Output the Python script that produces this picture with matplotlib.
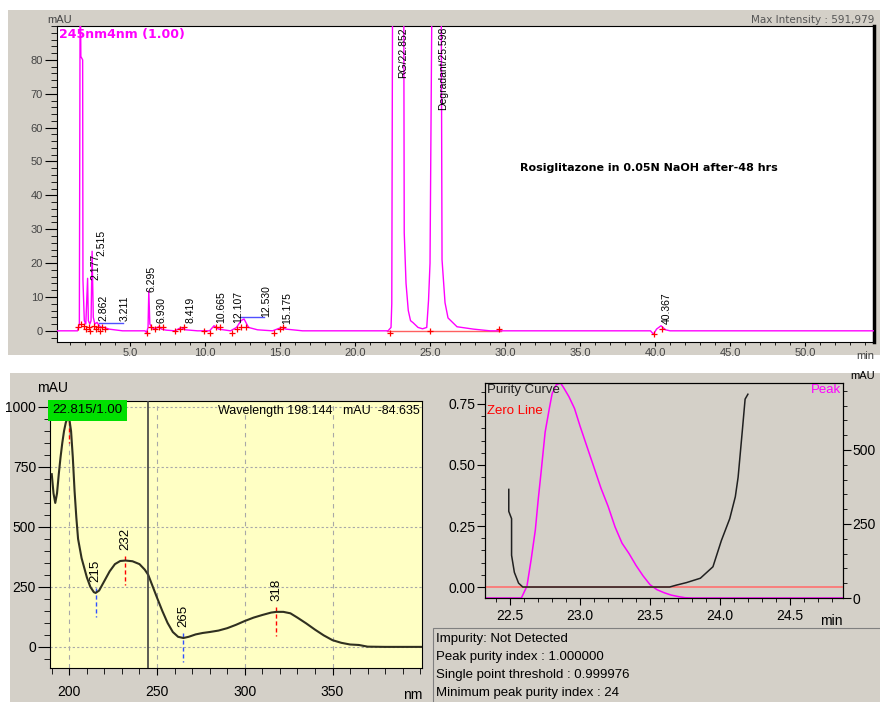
import matplotlib.pyplot as plt
from matplotlib.patches import Rectangle
from matplotlib.ticker import MultipleLocator, FixedLocator, FormatStrFormatter

plt.rcParams['font.family'] = ['Liberation Sans', 'DejaVu Sans']

W, H = 880, 702

# ---- chromatogram at 245 nm (time min, mAU) ----
chrom = [(0.1, 0), (1.50, 0), (1.62, 2), (1.67, 95), (1.70, 95), (1.72, 81), (1.84, 80),
         (1.86, 15), (1.95, 3), (2.05, 2), (2.17, 15.5), (2.22, 3), (2.32, 2), (2.40, 3),
         (2.47, 23.5), (2.55, 4), (2.65, 2), (2.80, 2.5), (2.95, 1.5), (3.10, 1), (3.30, 1),
         (3.60, 0.5), (4.50, 0), (6.00, 0), (6.10, -0.5), (6.20, 1), (6.25, 11.8), (6.32, 2),
         (6.45, 1), (6.65, 0.5), (6.90, 1.2), (7.10, 0.5), (7.40, 0.2), (8.00, 0), (8.40, 1),
         (8.70, 0.3), (9.50, 0), (10.30, 0), (10.60, 1.5), (10.90, 0.5), (11.70, 0), (12.10, 1),
         (12.40, 3), (12.60, 3.5), (12.90, 1), (13.50, 0.3), (14.50, 0), (15.10, 1), (15.40, 0.5),
         (16.50, 0), (22.20, 0), (22.40, 1), (22.45, 8), (22.50, 95), (23.25, 95), (23.28, 29),
         (23.40, 14), (23.55, 6), (23.70, 3), (23.87, 2.4), (24.20, 1), (24.50, 0.6), (24.78, 1),
         (24.90, 9), (25.00, 20), (25.12, 95), (25.75, 95), (25.80, 21), (26.00, 8.3),
         (26.20, 3.8), (26.80, 1.2), (27.90, 0.5), (29.00, 0), (39.70, 0), (39.90, -1),
         (40.10, 0.5), (40.40, 1.5), (40.70, 0.3), (41.00, 0), (54.6, 0)]
cut_t = [1.55, 1.75, 1.95, 2.05, 2.25, 2.35, 2.60, 2.75, 2.85, 3.00, 3.15, 3.30,
         6.10, 6.40, 6.65, 6.95, 7.20, 8.00, 8.35, 8.60, 9.90, 10.30, 10.70, 11.00,
         11.80, 12.10, 12.40, 12.70, 14.60, 15.00, 15.20, 22.30, 25.00, 29.60, 39.90, 40.45]
cut_y = [1, 2, 1.5, 0.5, 1, 0, 1.5, 0.5, 1, 0, 1, 0.5,
         -0.5, 1, 0.5, 1, 1, 0, 0.5, 1, 0, -0.5, 1, 1,
         -0.5, 0.5, 1, 1, -0.5, 0.5, 1, -0.5, 0, 0.5, -1, 0.5]
peak_names = ['2.177', '2.515', '2.862', '3.211', '6.295', '6.930', '8.419', '10.665',
              '12.107', '12.530', '15.175', 'RG/22.852', 'Degradant/25.598', '40.367']
blue_base = [(2.9, 4.5, 2.4), (12.3, 13.9, 4.0)]
red_base = (22.1, 29.7)

# ---- UV spectrum (nm, mAU) ----
spec = [(190, 720), (191, 640), (192, 600), (193, 640), (194, 720), (195, 790), (196, 850),
        (197, 900), (198, 935), (199, 955), (200, 950), (201, 900), (202, 790), (203, 650),
        (204, 540), (205, 450), (207, 370), (210, 290), (212, 250), (214, 228), (215, 225),
        (217, 235), (220, 275), (223, 315), (226, 345), (229, 358), (232, 360), (236, 357),
        (240, 345), (243, 322), (245, 300), (247, 262), (250, 205), (253, 150), (256, 100),
        (259, 62), (262, 42), (265, 37), (268, 42), (272, 52), (276, 58), (280, 62), (285, 68),
        (290, 78), (295, 92), (300, 108), (305, 122), (310, 133), (315, 143), (318, 146),
        (322, 146), (326, 140), (330, 122), (335, 98), (340, 72), (345, 48), (350, 28),
        (355, 17), (360, 10), (365, 8), (370, 1), (380, 0), (401, 0)]
spec_marks = [200, 215, 232, 265, 318]
spec_kind = ['max', 'min', 'max', 'min', 'max']
cursor_nm = 245

# ---- peak purity ----
purity = [(22.49, 0.40), (22.49, 0.31), (22.51, 0.28), (22.51, 0.13), (22.53, 0.06),
          (22.56, 0.016), (22.59, 0.0), (23.64, 0.0), (23.69, 0.008), (23.76, 0.018),
          (23.86, 0.036), (23.95, 0.083), (24.01, 0.19), (24.07, 0.28), (24.11, 0.37),
          (24.13, 0.45), (24.16, 0.64), (24.18, 0.77), (24.20, 0.79)]
peak = [(22.32, 0), (22.58, 0), (22.62, 40), (22.65, 130), (22.68, 230), (22.70, 330),
        (22.72, 420), (22.75, 560), (22.78, 640), (22.80, 690), (22.83, 720), (22.86, 726),
        (22.88, 712), (22.92, 680), (22.96, 640), (23.00, 580), (23.05, 510), (23.10, 440),
        (23.15, 370), (23.20, 310), (23.25, 240), (23.30, 185), (23.35, 150), (23.40, 110),
        (23.45, 75), (23.50, 45), (23.55, 28), (23.60, 18), (23.65, 10), (23.70, 5),
        (23.75, 1), (23.80, 0), (24.88, 0)]
info = ['Impurity: Not Detected', 'Peak purity index : 1.000000',
        'Single point threshold : 0.999976', 'Minimum peak purity index : 24']

GRAY = '#D4D0C8'
MAG = '#FF00FF'


def box(l, t, r, b):
    return [l / W, 1 - b / H, (r - l) / W, (b - t) / H]


def fig_rect(l, t, r, b, **kw):
    fig.patches.append(Rectangle((l / W, 1 - b / H), (r - l) / W, (b - t) / H,
                                 transform=fig.transFigure, **kw))


fig = plt.figure(figsize=(W / 100, H / 100), dpi=100)
fig_rect(8, 10, 880, 355, facecolor=GRAY, edgecolor='none', zorder=-5)
fig_rect(10, 373, 880, 702, facecolor=GRAY, edgecolor='none', zorder=-5)
fig_rect(433, 628, 882, 704, facecolor='none', edgecolor='#808080', lw=0.8, zorder=-4)

# ================= top: chromatogram =================
ax1 = fig.add_axes(box(57, 26, 874, 342))
ax1.plot([p[0] for p in chrom], [p[1] for p in chrom], color=MAG, lw=1.0, zorder=3)
ax1.plot(red_base, [0, 0], color='#FF6060', lw=1.0, zorder=2)
for a, b, y in blue_base:
    ax1.plot([a, b], [y, y], color='#5050FF', lw=1.0, zorder=2)
ax1.plot(cut_t, cut_y, ls='none', marker='+', ms=5, mew=0.9, color='red', zorder=4)
lab_x = [2.67, 3.11, 3.22, 4.67, 6.44, 7.11, 9.0, 11.1, 12.2, 14.1, 15.5, 23.2, 25.9, 40.8]
lab_y = [15, 22, 3, 3, 11.5, 2.4, 2.4, 2.4, 2.4, 4, 2, 89.7, 89.7, 2]
for name, x, y in zip(peak_names, lab_x, lab_y):
    va = 'top' if y > 50 else 'bottom'
    ax1.text(x, y, name, rotation=90, ha='center', va=va, fontsize=7.5, zorder=5)
ax1.set_xlim(0.13, 54.6)
ax1.set_ylim(-3.3, 90)
ax1.xaxis.set_major_locator(MultipleLocator(5))
ax1.xaxis.set_minor_locator(MultipleLocator(1))
ax1.xaxis.set_major_formatter(FormatStrFormatter('%.1f'))
ax1.yaxis.set_major_locator(FixedLocator(range(0, 81, 10)))
ax1.yaxis.set_minor_locator(MultipleLocator(2))
ax1.tick_params(axis='x', which='major', length=3, labelsize=8, labelcolor='#444444', pad=1)
ax1.tick_params(axis='x', which='minor', length=2)
ax1.tick_params(axis='y', which='major', length=9, labelsize=8, labelcolor='#444444', pad=1)
ax1.tick_params(axis='y', which='minor', length=4)
ax1.spines['right'].set_linewidth(2.5)
ax1.text(1.0, -0.03, 'min', transform=ax1.transAxes, ha='right', va='top', fontsize=8,
         color='#444444')
ax1.text(-0.012, 1.003, 'mAU', transform=ax1.transAxes, ha='left', va='bottom', fontsize=8,
         color='#444444')
ax1.text(0.002, 0.995, '245nm4nm (1.00)', transform=ax1.transAxes, ha='left', va='top',
         fontsize=9, fontweight='bold', color=MAG, family='DejaVu Sans')
ax1.text(1.0, 1.003, 'Max Intensity : 591,979', transform=ax1.transAxes, ha='right',
         va='bottom', fontsize=7.5, color='#555555', family='DejaVu Sans')
ax1.text(31, 48, 'Rosiglitazone in 0.05N NaOH after-48 hrs', ha='left', va='center',
         fontsize=8, fontweight='bold', family='DejaVu Sans')

# ================= bottom left: spectrum =================
ax2 = fig.add_axes(box(50, 401, 422, 668), facecolor='#FFFFC4')
ax2.set_xlim(189, 401)
ax2.set_ylim(-88, 1025)
for g in [200, 250, 300, 350]:
    ax2.axvline(g, color='#A8A8A8', lw=0.8, ls=(0, (4, 4)), zorder=1)
for g in [0, 250, 500, 750, 1000]:
    ax2.axhline(g, color='#A8A8A8', lw=0.8, ls=(0, (2, 2)), zorder=1)
sx = [p[0] for p in spec]
sy = [p[1] for p in spec]
ax2.plot(sx, sy, color='#303020', lw=1.5, zorder=3)
ax2.axvline(cursor_nm, color='#404040', lw=1.2, zorder=4)
spec_val = dict(spec)
for nm, kind in zip(spec_marks, spec_kind):
    v = spec_val[nm]
    col = 'red' if kind == 'max' else '#3050FF'
    ax2.plot([nm, nm], [v + 20, v - 100], color=col, lw=1, ls=(0, (3, 2)), zorder=2)
    if v + 45 < 900:  # the label of the top maximum sits under the green box
        ax2.text(nm, v + 45, str(nm), rotation=90, ha='center', va='bottom', fontsize=9.5,
                 zorder=2)
ax2.text(190.5, 1012, '22.815/1.00', ha='left', va='top', fontsize=9.5, zorder=6,
         bbox=dict(boxstyle='square,pad=0.35', fc='#00E000', ec='none'))
ax2.text(0.993, 0.985, 'Wavelength 198.144   mAU  -84.635', transform=ax2.transAxes,
         ha='right', va='top', fontsize=9, zorder=6)
ax2.xaxis.set_major_locator(FixedLocator([200, 250, 300, 350]))
ax2.xaxis.set_minor_locator(MultipleLocator(10))
ax2.yaxis.set_major_locator(MultipleLocator(250))
ax2.yaxis.set_minor_locator(MultipleLocator(50))
ax2.tick_params(axis='x', which='major', length=5, labelsize=10, pad=7)
ax2.tick_params(axis='x', which='minor', length=4)
ax2.tick_params(axis='y', which='major', length=9, labelsize=10, pad=1)
ax2.tick_params(axis='y', which='minor', length=4)
ax2.text(1.0, -0.075, 'nm', transform=ax2.transAxes, ha='right', va='top', fontsize=10)
fig.text(53 / W, 1 - 388 / H, 'mAU', ha='center', va='center', fontsize=10)

# ================= bottom right: purity =================
ax3 = fig.add_axes(box(485, 383, 843, 598))
ax3r = ax3.twinx()
ax3.set_zorder(ax3r.get_zorder() + 1)
ax3.patch.set_visible(False)
ax3.axhline(0, color='#FF7070', lw=1.2, zorder=1)
ax3.plot([p[0] for p in purity], [p[1] for p in purity], color='#202020', lw=1.1, zorder=3)
ax3r.plot([p[0] for p in peak], [p[1] for p in peak], color=MAG, lw=1.1)
ax3.set_xlim(22.32, 24.88)
ax3.set_ylim(-0.045, 0.836)
ax3r.set_ylim(0, 726)
ax3.xaxis.set_major_locator(MultipleLocator(0.5))
ax3.xaxis.set_minor_locator(MultipleLocator(0.1))
ax3.xaxis.set_major_formatter(FormatStrFormatter('%.1f'))
ax3.yaxis.set_major_locator(MultipleLocator(0.25))
ax3.yaxis.set_minor_locator(MultipleLocator(0.05))
ax3.yaxis.set_major_formatter(FormatStrFormatter('%.2f'))
ax3r.yaxis.set_major_locator(MultipleLocator(250))
ax3r.yaxis.set_minor_locator(MultipleLocator(50))
ax3.tick_params(axis='x', which='major', length=5, labelsize=10, pad=3)
ax3.tick_params(axis='x', which='minor', length=3)
ax3.tick_params(axis='y', which='major', length=6, labelsize=10, pad=1)
ax3.tick_params(axis='y', which='minor', length=3)
ax3r.tick_params(axis='y', which='major', length=6, labelsize=10, pad=1)
ax3r.tick_params(axis='y', which='minor', length=3)
ax3.text(0.005, 0.995, 'Purity Curve', transform=ax3.transAxes, ha='left', va='top',
         fontsize=9.5, color='#202020')
ax3.text(0.005, 0.90, 'Zero Line', transform=ax3.transAxes, ha='left', va='top',
         fontsize=9.5, color='red')
ax3.text(0.995, 0.995, 'Peak', transform=ax3.transAxes, ha='right', va='top',
         fontsize=9.5, color=MAG)
ax3.text(1.0, -0.075, 'min', transform=ax3.transAxes, ha='right', va='top', fontsize=10)
ax3r.text(1.02, 1.01, 'mAU', transform=ax3r.transAxes, ha='left', va='bottom', fontsize=8)

for i, line in enumerate(info):
    fig.text(436 / W, 1 - (639 + 18 * i) / H, line, ha='left', va='center', fontsize=9.5)

fig.savefig('out.png', dpi=100)
